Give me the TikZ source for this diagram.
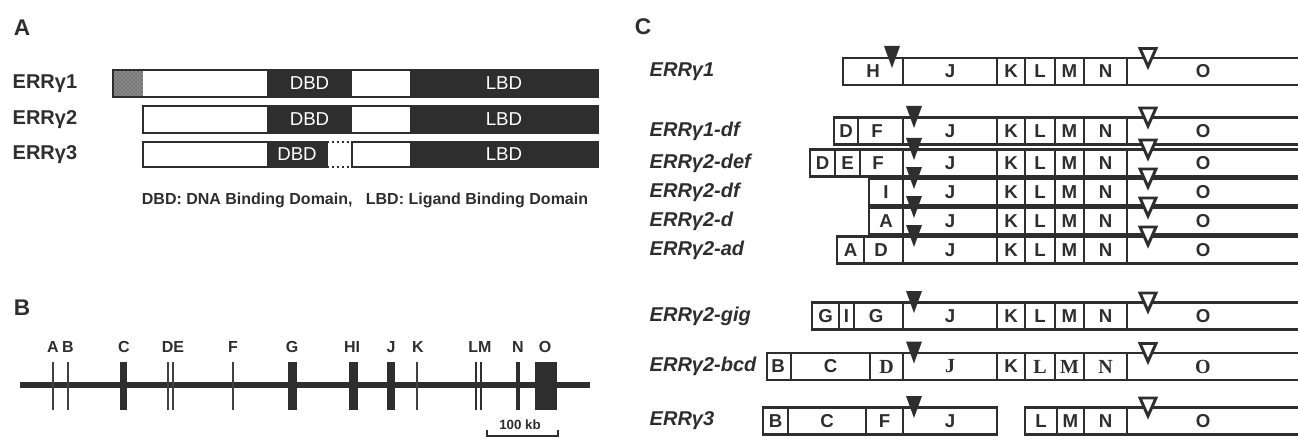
\documentclass[tikz,border=0pt]{standalone}
\usepackage{fontspec}
\setmainfont{Liberation Sans}
\newfontfamily\seriffont{Liberation Serif}
\usetikzlibrary{patterns}
\definecolor{ink}{gray}{0.18}

\begin{document}
\begin{tikzpicture}[x=0.75pt, y=-0.75pt,
  panel/.style={font=\fontsize{17}{17}\selectfont\bfseries, text=ink},
  protlab/.style={font=\fontsize{15}{15}\selectfont\bfseries, text=ink, anchor=west},
  domlab/.style={font=\fontsize{14}{14}\selectfont, text=white},
  exonlab/.style={font=\fontsize{12}{12}\selectfont\bfseries, text=ink},
  rowlab/.style={font=\fontsize{15}{15}\selectfont\bfseries\itshape, text=ink, anchor=west},
  cell/.style={font=\fontsize{14}{14}\selectfont\bfseries, text=ink},
  cellserif/.style={font=\fontsize{15}{15}\selectfont\seriffont\bfseries, text=ink},
  boxline/.style={draw=ink, line width=1.7pt},
  opencut/.style={draw=ink, fill=white, line width=2.2pt, line join=miter},
]
  \clip (0,0) rectangle (1298,442);
  \fill[white] (0,0) rectangle (1298,442);

  % A: protein domains
  \node[panel] (labA) at (22,28) {A};
  \node[protlab] (g1) at (8,83.5) {ERRγ1};
  \node[protlab] (g2) at (8,119.5) {ERRγ2};
  \node[protlab] (g3) at (8,154.5) {ERRγ3};
  \fill[black!45] (113,70) rectangle (143,97);
  \fill[pattern=crosshatch dots, pattern color=black!85] (113,70) rectangle (143,97);
  \fill[ink] (267,70) rectangle (352,97);
  \fill[ink] (410,70) rectangle (598,97);
  \draw[boxline] (113,70) rectangle (598,97);
  \node[domlab] (dbd1) at (309.5,83.5) {DBD};
  \node[domlab] (lbd1) at (504,83.5) {LBD};
  \fill[ink] (267,106) rectangle (352,133);
  \fill[ink] (410,106) rectangle (598,133);
  \draw[boxline] (143,106) rectangle (598,133);
  \node[domlab] (dbd2) at (309.5,119.5) {DBD};
  \node[domlab] (lbd2) at (504,119.5) {LBD};
  \fill[ink] (267,142) rectangle (327,167);
  \fill[ink] (410,142) rectangle (598,167);
  \draw[boxline] (143,142) rectangle (327,167);
  \draw[boxline] (352,142) rectangle (598,167);
  \draw[ink, line width=1.7pt, dotted] (327,142) -- (352,142) (327,167) -- (352,167);
  \node[domlab] (dbd3) at (297,154.5) {DBD};
  \node[domlab] (lbd3) at (504,154.5) {LBD};
  \node[font=\fontsize{12}{12}\selectfont\bfseries, text=ink] (key) at (365,200)
    {DBD: DNA Binding Domain,\ \ \ LBD: Ligand Binding Domain};

  % B: gene map
  \node[panel] (labB) at (22,308) {B};
  \draw[ink, line width=3.8pt] (20,385) -- (590,385);
  \foreach \x in {53,68,168,173,233,417}
    \draw[black!75, line width=1.2pt] (\x,362) -- (\x,410);
  \draw[ink, line width=2pt] (476,362) -- (476,410) (481,362) -- (481,410);
  \foreach \a/\b in {120/127,288/297,349/358,387/395,516/520,535/557}
    \fill[ink] (\a,362) rectangle (\b,410);
  \foreach \x/\t in {53/A,68/B,124/C,173/DE,233/F,292/G,352/HI,391/J,418/K,480/LM,518/N,545/O}
    \node[exonlab] (ex-\t) at (\x,347) {\t};
  \node[font=\fontsize{10}{10}\selectfont\bfseries, text=ink] (kb) at (520,425) {100 kb};
  \draw[ink, line width=2pt] (487,430) -- (487,436) -- (558,436) -- (558,430);

  % C: transcripts
  \node[panel] (labC) at (643,27) {C};
  \node[rowlab] (r1) at (645,71.5) {ERRγ1};
  \node[rowlab] (r1df) at (645,131) {ERRγ1-df};
  \node[rowlab] (r2def) at (645,163) {ERRγ2-def};
  \node[rowlab] (r2df) at (645,192) {ERRγ2-df};
  \node[rowlab] (r2d) at (645,221) {ERRγ2-d};
  \node[rowlab] (r2ad) at (645,250) {ERRγ2-ad};
  \node[rowlab] (r2gig) at (645,316) {ERRγ2-gig};
  \node[rowlab] (r2bcd) at (645,366.5) {ERRγ2-bcd};
  \node[rowlab] (r3) at (645,421) {ERRγ3};

  % shared exons J..O
  \foreach \y/\s/\r/\cs in {71.5/843/a/cell,131/834/b/cell,163/810/c/cell,192/869/d/cell,
      221/869/e/cell,250/837/f/cell,316/812/g/cell,366.5/767/h/cellserif} {
    \draw[boxline] (1300,\y-13.5) -- (\s,\y-13.5) -- (\s,\y+13.5) -- (1300,\y+13.5);
    \foreach \x in {903,997,1025,1055,1084,1127}
      \draw[boxline] (\x,\y-13.5) -- (\x,\y+13.5);
    \node[\cs] (J-\r) at (950,\y) {J};
    \node[cell] (K-\r) at (1011,\y) {K};
    \node[\cs] (L-\r) at (1040,\y) {L};
    \node[\cs] (M-\r) at (1069.5,\y) {M};
    \node[\cs] (N-\r) at (1105.5,\y) {N};
    \node[\cs] (O-\r) at (1203,\y) {O};
  }

  % 5' exons
  \node[cell] (H-a) at (873,71.5) {H};
  \draw[boxline] (858,117.5) -- (858,144.5);
  \node[cell] (D-b) at (846,131) {D};
  \node[cell] (F-b) at (877,131) {F};
  \draw[boxline] (835,149.5) -- (835,176.5) (860,149.5) -- (860,176.5);
  \node[cell] (D-c) at (822.5,163) {D};
  \node[cell] (E-c) at (847.5,163) {E};
  \node[cell] (F-c) at (878,163) {F};
  \node[cell] (I-d) at (886,192) {I};
  \node[cell] (A-e) at (886,221) {A};
  \draw[boxline] (864,236.5) -- (864,263.5);
  \node[cell] (A-f) at (850.5,250) {A};
  \node[cell] (D-f) at (881,250) {D};
  \draw[boxline] (839,302.5) -- (839,329.5) (854,302.5) -- (854,329.5);
  \node[cell] (G-g) at (825.5,316) {G};
  \node[cell] (I-g) at (846.5,316) {I};
  \node[cell] (G2-g) at (876,316) {G};
  \draw[boxline] (791,353) -- (791,380) (870,353) -- (870,380);
  \node[cell] (B-h) at (778,366.5) {B};
  \node[cell] (C-h) at (830.5,366.5) {C};
  \node[cellserif] (D-h) at (886.5,366.5) {D};

  % ERRg3: two pieces
  \draw[boxline] (763,407.5) rectangle (997,434.5);
  \foreach \x in {788,866,903}
    \draw[boxline] (\x,407.5) -- (\x,434.5);
  \draw[boxline] (1300,407.5) -- (1025,407.5) -- (1025,434.5) -- (1300,434.5);
  \foreach \x in {1057,1084,1127}
    \draw[boxline] (\x,407.5) -- (\x,434.5);
  \foreach \x/\t in {775.5/B,827/C,884.5/F,950/J,1041/L,1070.5/M,1105.5/N,1203/O}
    \node[cell] (\t-i) at (\x,421) {\t};

  % splice sites
  \fill[ink] (884,46) -- (900,46) -- (892,68) -- cycle;
  \foreach \y in {131,163,192,221,250,316,366.5,421}
    \fill[ink] (906,\y-25) -- (922,\y-25) -- (914,\y-3) -- cycle;
  \foreach \y in {71.5,131,163,192,221,250,316,366.5,421}
    \draw[opencut] (1140,\y-23) -- (1156,\y-23) -- (1148,\y-5) -- cycle;
\end{tikzpicture}
\end{document}
